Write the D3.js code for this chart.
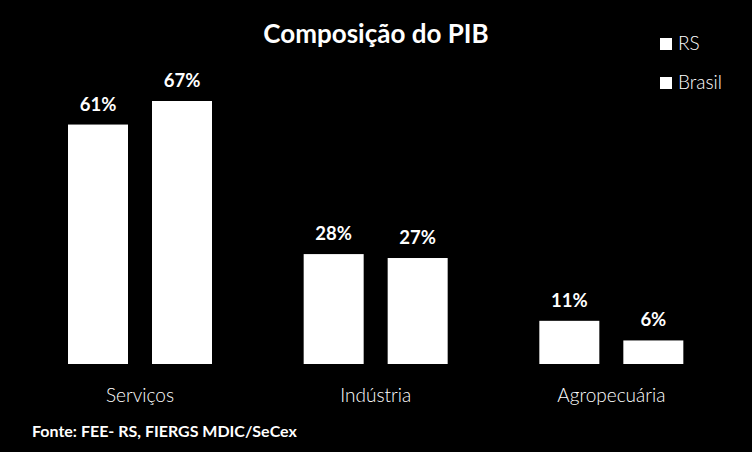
<!DOCTYPE html>
<html>
<head>
<meta charset="utf-8">
<script src="https://cdn.jsdelivr.net/npm/d3@7"></script>
<style>
  html, body { margin: 0; padding: 0; background: #000; }
  svg { display: block; }
</style>
</head>
<body>
<script>
const categories = ["Serviços", "Indústria", "Agropecuária"];
const seriesNames = ["RS", "Brasil"];
const rsValues = [61, 28, 11];
const brasilValues = [67, 27, 6];
const valueLabels = [["61%", "67%"], ["28%", "27%"], ["11%", "6%"]];
const title = "Composição do PIB";
const source = "Fonte: FEE- RS, FIERGS MDIC/SeCex";

const W = 752, H = 452;
const font = "Lato, 'Open Sans', sans-serif";
const svg = d3.select("body").append("svg").attr("width", W).attr("height", H);
svg.append("rect").attr("width", W).attr("height", H).attr("fill", "#000");

const x0 = d3.scaleBand().domain(categories).range([22, 729]).padding(0);
const x1 = d3.scaleBand().domain(seriesNames).range([46, 190]).paddingInner(24 / 84).paddingOuter(0);
const y = d3.scaleLinear().domain([0, 67]).range([364, 101]);

const data = categories.map((c, i) => ({
  cat: c,
  vals: [
    { s: "RS", v: rsValues[i], label: valueLabels[i][0] },
    { s: "Brasil", v: brasilValues[i], label: valueLabels[i][1] }
  ]
}));

const g = svg.selectAll("g.cat").data(data).enter().append("g")
  .attr("class", "cat")
  .attr("transform", d => `translate(${x0(d.cat)},0)`);

g.selectAll("rect").data(d => d.vals).enter().append("rect")
  .attr("x", d => x1(d.s))
  .attr("width", x1.bandwidth())
  .attr("y", d => y(d.v))
  .attr("height", d => y(0) - y(d.v))
  .attr("fill", "#fff");

g.selectAll("text.val").data(d => d.vals).enter().append("text")
  .attr("class", "val")
  .attr("x", d => x1(d.s) + x1.bandwidth() / 2)
  .attr("y", d => y(d.v) - 14)
  .attr("text-anchor", "middle")
  .attr("fill", "#fff")
  .attr("font-family", font)
  .attr("font-weight", 700)
  .attr("font-size", 18.5)
  .text(d => d.label);

// category axis labels
const xAxis = d3.axisBottom(x0).tickSize(0).tickPadding(0);
const ax = svg.append("g").attr("transform", "translate(0,364)").call(xAxis);
ax.select(".domain").remove();
ax.selectAll("text")
  .attr("dy", null)
  .attr("y", 38)
  .attr("x", 0)
  .attr("fill", "#fff")
  .attr("font-family", font)
  .attr("font-weight", 300)
  .attr("font-size", 19);
ax.selectAll(".tick").attr("transform", d => `translate(${x0(d) + (x1.range()[0] + x1.range()[1]) / 2},0)`);

// title
svg.append("text")
  .attr("x", 376).attr("y", 43)
  .attr("text-anchor", "middle")
  .attr("fill", "#fff")
  .attr("font-family", font)
  .attr("font-weight", 700)
  .attr("font-size", 26)
  .text(title);

// legend
const leg = svg.selectAll("g.leg").data(seriesNames).enter().append("g")
  .attr("class", "leg")
  .attr("transform", (d, i) => `translate(660,${38 + i * 39})`);
leg.append("rect").attr("width", 12).attr("height", 12).attr("fill", "#fff");
leg.append("text")
  .attr("x", 18).attr("y", 12)
  .attr("fill", "#fff")
  .attr("font-family", font)
  .attr("font-weight", 300)
  .attr("font-size", 19)
  .text(d => d);

// source
svg.append("text")
  .attr("x", 32).attr("y", 437)
  .attr("fill", "#fff")
  .attr("font-family", font)
  .attr("font-weight", 700)
  .attr("font-size", 16)
  .text(source);
</script>
</body>
</html>
